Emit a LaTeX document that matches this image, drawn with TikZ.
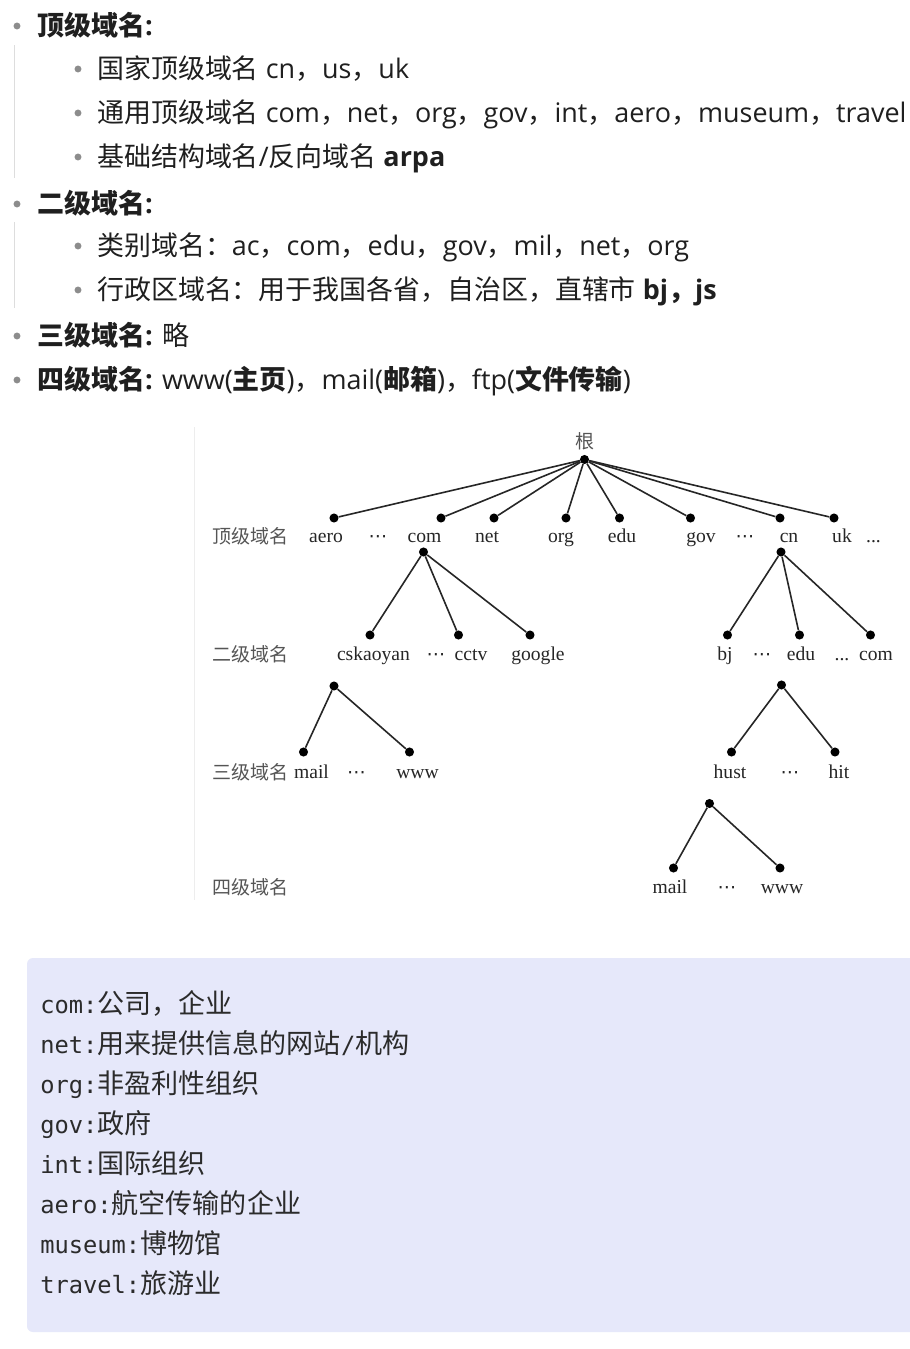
\documentclass[tikz,border=0pt]{standalone}
\usepackage{fontspec}
\setmainfont{Open Sans}
\newfontfamily\cjk{Noto Sans CJK SC}
\newfontfamily\trm{Liberation Serif}
\newfontfamily\mono{DejaVu Sans Mono}
\newfontfamily\dvs{DejaVu Sans}
\newcommand\cd{{\dvs\fontsize{14pt}{15pt}\selectfont ⋯}}
\newcommand\mn[1]{{\mono\fontsize{17.8pt}{21pt}\selectfont #1}}
\definecolor{txtcol}{HTML}{1F1F1F}
\definecolor{bulcol}{HTML}{8C8C8C}
\definecolor{rulecol}{HTML}{DDDDDD}
\definecolor{treecol}{HTML}{262626}
\definecolor{treezh}{HTML}{555555}
\definecolor{codebg}{HTML}{E6E8FA}
\definecolor{codetxt}{HTML}{2B2B2B}
\begin{document}
\begin{tikzpicture}[x=0.75pt,y=-0.75pt,
  txt/.style={anchor=base west,inner sep=0pt,text=txtcol,font=\fontsize{20.2pt}{24pt}\selectfont},
  bul/.style={circle,fill=bulcol,inner sep=0pt,minimum size=5.2pt},
  code/.style={anchor=base west,inner sep=0pt,text=codetxt,font=\fontsize{20.3pt}{24pt}\selectfont},
  dot/.style={circle,fill=black,inner sep=0pt,minimum size=6.8pt},
  tl/.style={anchor=base,inner sep=0pt,text=treecol,font=\trm\fontsize{14.7pt}{16pt}\selectfont},
  tz/.style={anchor=base,inner sep=0pt,text=treezh,font=\cjk\fontsize{14.25pt}{16pt}\selectfont},
  edge/.style={draw=treecol,line width=1.2pt}]
\useasboundingbox (0,0) rectangle (910,1349);
\fill[white] (0,0) rectangle (910,1349);

% ---------- bullet list ----------
\draw[rulecol,line width=0.8pt] (14.5,45) -- (14.5,178);
\draw[rulecol,line width=0.8pt] (14.5,222) -- (14.5,308);
\node[bul] (b1) at (17,26) {};
\node[bul] (b2) at (78,69) {};
\node[bul] (b3) at (78,113) {};
\node[bul] (b4) at (78,157) {};
\node[bul] (b5) at (17,204) {};
\node[bul] (b6) at (78,246) {};
\node[bul] (b7) at (78,290) {};
\node[bul] (b8) at (17,336) {};
\node[bul] (b9) at (17,380) {};

\node[txt] (t1) at (37,36) {\bfseries{\cjk 顶级域名}:};
\node[txt] (t2) at (97,78) {{\cjk 国家顶级域名} cn{\cjk ，}us{\cjk ，}uk};
\node[txt] (t3) at (97,122) {{\cjk 通用顶级域名} com{\cjk ，}net{\cjk ，}org{\cjk ，}gov{\cjk ，}int{\cjk ，}aero{\cjk ，}museum{\cjk ，}travel};
\node[txt] (t4) at (97,166) {{\cjk 基础结构域名}/{\cjk 反向域名} \textbf{arpa}};
\node[txt] (t5) at (37,213) {\bfseries{\cjk 二级域名}:};
\node[txt] (t6) at (97,255) {{\cjk 类别域名：}ac{\cjk ，}com{\cjk ，}edu{\cjk ，}gov{\cjk ，}mil{\cjk ，}net{\cjk ，}org};
\node[txt] (t7) at (97,299) {{\cjk 行政区域名：用于我国各省，自治区，直辖市} \textbf{bj{\cjk ，}js}};
\node[txt] (t8) at (37,345) {\textbf{{\cjk 三级域名}:} {\cjk 略}};
\node[txt] (t9) at (37,389) {\textbf{{\cjk 四级域名}:} www(\textbf{\cjk 主页}){\cjk ，}mail(\textbf{\cjk 邮箱}){\cjk ，}ftp(\textbf{\cjk 文件传输})};

% ---------- tree ----------
\draw[black!7,line width=0.8pt] (194.5,427) -- (194.5,900);

\node[tz] (lroot) at (585,448) {根};
\node[dot] (root) at (584.5,459.5) {};

\node[dot] (aero) at (334,518) {};
\node[dot] (com) at (441,518) {};
\node[dot] (net) at (494,518) {};
\node[dot] (org) at (566,518) {};
\node[dot] (edu) at (619.5,518) {};
\node[dot] (gov) at (690.5,518) {};
\node[dot] (cn) at (780,518) {};
\node[dot] (uk) at (834,518) {};
\foreach \n in {aero,com,net,org,edu,gov,cn,uk} \draw[edge] (root) -- (\n);

\node[tz] (z1) at (250,543) {顶级域名};
\node[tl] (laero) at (326,542) {aero};
\node[tl] (ld1) at (378,542) {\cd};
\node[tl] (lcom) at (424.5,542) {com};
\node[tl] (lnet) at (487,542) {net};
\node[tl] (lorg) at (561,542) {org};
\node[tl] (ledu) at (622,542) {edu};
\node[tl] (lgov) at (701,542) {gov};
\node[tl] (ld2) at (745,542) {\cd};
\node[tl] (lcn) at (789,542) {cn};
\node[tl] (luk) at (842,542) {uk};
\node[tl] (ld3) at (873.5,542) {...};

% com subtree
\node[dot] (comL) at (423.5,552) {};
\node[dot] (csk) at (370,635) {};
\node[dot] (cctv) at (458.5,635) {};
\node[dot] (goog) at (530,635) {};
\foreach \n in {csk,cctv,goog} \draw[edge] (comL) -- (\n);

% cn subtree
\node[dot] (cnL) at (781,552) {};
\node[dot] (bj) at (727.5,635) {};
\node[dot] (edu2) at (799.5,635) {};
\node[dot] (com2) at (870.5,635) {};
\foreach \n in {bj,edu2,com2} \draw[edge] (cnL) -- (\n);

\node[tz] (z2) at (250,661) {二级域名};
\node[tl] (lcsk) at (373.5,660) {cskaoyan};
\node[tl] (ld4) at (436,660) {\cd};
\node[tl] (lcctv) at (471,660) {cctv};
\node[tl] (lgoog) at (538,660) {google};
\node[tl] (lbj) at (725,660) {bj};
\node[tl] (ld5) at (762,660) {\cd};
\node[tl] (ledu2) at (801,660) {edu};
\node[tl] (ld6) at (842,660) {...};
\node[tl] (lcom2) at (876,660) {com};

% cskaoyan subtree
\node[dot] (cskL) at (334,686) {};
\node[dot] (mail1) at (303.5,752) {};
\node[dot] (www1) at (409.5,752) {};
\foreach \n in {mail1,www1} \draw[edge] (cskL) -- (\n);

% edu subtree
\node[dot] (eduL) at (781.5,685) {};
\node[dot] (hust) at (731.5,752) {};
\node[dot] (hit) at (835,752) {};
\foreach \n in {hust,hit} \draw[edge] (eduL) -- (\n);

\node[tz] (z3) at (250,779) {三级域名};
\node[tl] (lmail1) at (311.5,778) {mail};
\node[tl] (ld7) at (356.5,778) {\cd};
\node[tl] (lwww1) at (417.5,778) {www};
\node[tl] (lhust) at (730,778) {hust};
\node[tl] (ld8) at (790,778) {\cd};
\node[tl] (lhit) at (839,778) {hit};

% hust subtree
\node[dot] (hustL) at (709.5,803.5) {};
\node[dot] (mail2) at (673.5,868) {};
\node[dot] (www2) at (780,868) {};
\foreach \n in {mail2,www2} \draw[edge] (hustL) -- (\n);

\node[tz] (z4) at (250,894) {四级域名};
\node[tl] (lmail2) at (670,893) {mail};
\node[tl] (ld9) at (727,893) {\cd};
\node[tl] (lwww2) at (782,893) {www};

% ---------- code block ----------
\fill[codebg,rounded corners=4.5pt] (27,958) rectangle (925,1332);
\node[code] (c1) at (40,1013) {\mn{com:}{\cjk 公司，企业}};
\node[code] (c2) at (40,1053) {\mn{net:}{\cjk 用来提供信息的网站}\mn{/}{\cjk 机构}};
\node[code] (c3) at (40,1093) {\mn{org:}{\cjk 非盈利性组织}};
\node[code] (c4) at (40,1133) {\mn{gov:}{\cjk 政府}};
\node[code] (c5) at (40,1173) {\mn{int:}{\cjk 国际组织}};
\node[code] (c6) at (40,1213) {\mn{aero:}{\cjk 航空传输的企业}};
\node[code] (c7) at (40,1253) {\mn{museum:}{\cjk 博物馆}};
\node[code] (c8) at (40,1293) {\mn{travel:}{\cjk 旅游业}};
\end{tikzpicture}
\end{document}
